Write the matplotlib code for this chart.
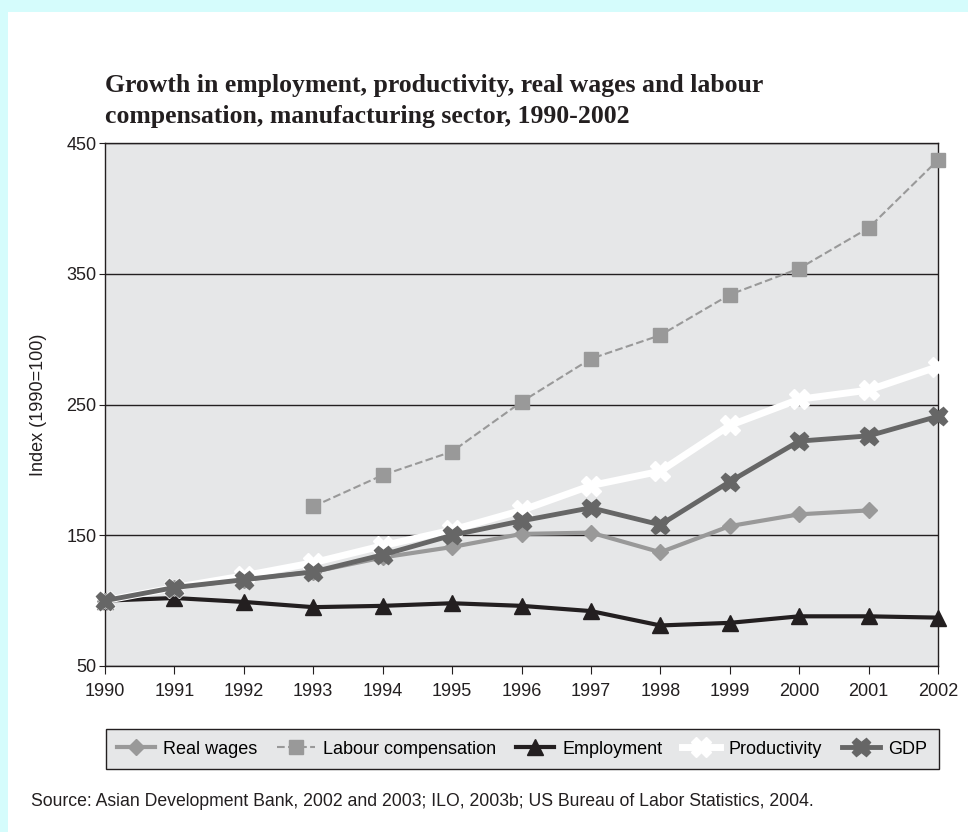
import matplotlib.pyplot as plt
import numpy as np

plt.rcParams['font.family'] = ['Liberation Sans', 'DejaVu Sans']

years = list(range(1990, 2003))
real_wages = [100, 110, 116, 122, 133, 141, 151, 152, 137, 157, 166, 169, None]
labour_comp = [None, None, None, 172, 196, 214, 252, 285, 303, 334, 354, 385, 437]
employment = [100, 102, 99, 95, 96, 98, 96, 92, 81, 83, 88, 88, 87]
productivity = [100, 110, 119, 129, 142, 154, 169, 188, 199, 234, 254, 261, 279]
gdp = [100, 110, 116, 122, 135, 150, 161, 171, 158, 191, 222, 226, 241]

def arr(v):
    return np.array([np.nan if x is None else x for x in v], dtype=float)

fig = plt.figure(figsize=(9.68, 8.32), dpi=100, facecolor='#d5fcfc')
# white panel
fig.patches.append(plt.Rectangle((8/968, 0), 1, 1 - 12/832, transform=fig.transFigure,
                                 facecolor='white', edgecolor='none', zorder=-10))

ax = fig.add_axes([105/968, 166/832, 833/968, 523/832])
ax.set_facecolor('#e6e7e8')

ax.plot(years, arr(employment), color='#231f20', lw=3, marker='^', markersize=11,
        label='Employment', zorder=3, clip_on=False)
ax.plot(years, arr(real_wages), color='#999999', lw=3, marker='D', markersize=8,
        label='Real wages', zorder=4, clip_on=False)
ax.plot(years, arr(labour_comp), color='#999999', lw=1.5, ls='--', marker='s', markersize=10,
        label='Labour compensation', zorder=4, clip_on=False)
ax.plot(years, arr(productivity), color='white', lw=5, marker='X', markersize=15,
        label='Productivity', zorder=5, clip_on=False)
ax.plot(years, arr(gdp), color='#666666', lw=3.5, marker='X', markersize=13,
        markeredgecolor='#666666', label='GDP', zorder=6, clip_on=False)

ax.set_xlim(1990, 2002)
ax.set_ylim(50, 450)
ax.set_xticks(years)
ax.set_yticks([50, 150, 250, 350, 450])
ax.yaxis.grid(True, color='#231f20', lw=1)
ax.set_axisbelow(True)
for s in ax.spines.values():
    s.set_color('#231f20')
    s.set_linewidth(1)
ax.tick_params(axis='both', labelsize=13, direction='out', color='#231f20',
               labelcolor='#231f20')
ax.tick_params(axis='x', length=6, pad=6)
ax.tick_params(axis='y', length=4, pad=2)
ax.set_ylabel('Index (1990=100)', fontsize=13, color='#231f20', labelpad=14)

handles, labels = ax.get_legend_handles_labels()
order = [1, 2, 0, 3, 4]
leg = fig.legend([handles[i] for i in order], [labels[i] for i in order], ncol=5,
                 loc='center', bbox_to_anchor=(522/968, 1 - 749/832), fontsize=13,
                 frameon=True, fancybox=False, facecolor='#e6e7e8', edgecolor='#231f20',
                 handlelength=2.1, columnspacing=1.1, handletextpad=0.45, borderpad=0.65)
leg.get_frame().set_linewidth(1)
leg.get_frame().set_alpha(1)

fig.text(105/968, 1 - 101/832,
         'Growth in employment, productivity, real wages and labour\n'
         'compensation, manufacturing sector, 1990-2002',
         fontsize=18.5, fontweight='bold', family='Liberation Serif', color='#231f20',
         va='center', ha='left', linespacing=1.4)

fig.text(31/968, 1 - 802/832,
         'Source: Asian Development Bank, 2002 and 2003; ILO, 2003b; US Bureau of Labor Statistics, 2004.',
         fontsize=12.7, color='#231f20', va='center', ha='left')

fig.savefig('out.png', dpi=100, facecolor=fig.get_facecolor())
